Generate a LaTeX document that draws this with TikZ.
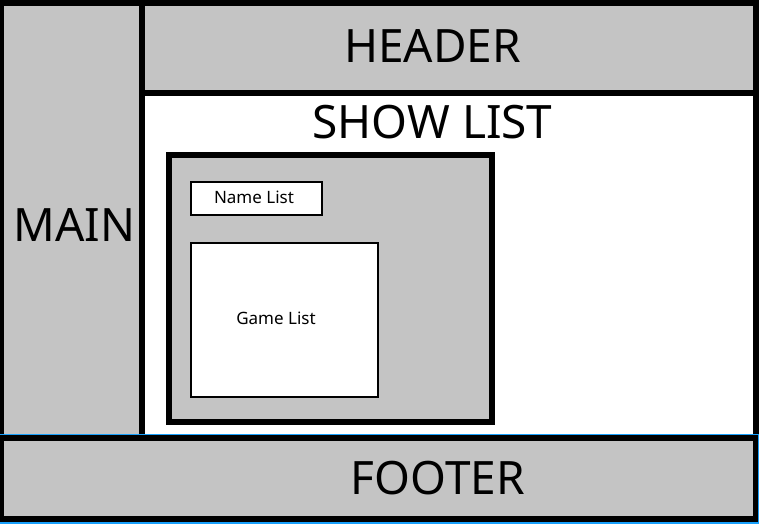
\documentclass[tikz,border=0pt]{standalone}
\usepackage{fontspec}
\setmainfont{Noto Sans}
\usetikzlibrary{positioning}
\definecolor{panelgray}{HTML}{C4C4C4}
\definecolor{selectblue}{HTML}{18A0FB}
\tikzset{
    panel/.style={draw=black, fill=panelgray, line width=6pt},
    listbox/.style={draw=black, fill=white, line width=2pt},
    bigtext/.style={anchor=base, font=\fontsize{46}{50}\selectfont},
    smalltext/.style={anchor=base, font=\fontsize{17}{20}\selectfont}
}

\begin{document}
\begin{tikzpicture}[x=1pt,y=-1pt]
            \useasboundingbox (0,0) rectangle (760,526);
            \draw[line width=6pt, fill=white] (142,93) rectangle (756,438);
            \draw[panel] (1,3) rectangle (142,438);
            \draw[panel] (142,3) rectangle (756,93);
            \draw[panel] (1,438) rectangle (756,519);
            \draw[panel, line width=6.5pt] (169,155) rectangle (492,422);
            \draw[listbox] (191,182) rectangle (322,215);
            \draw[listbox] (191,243) rectangle (378,397);
            \draw[selectblue, line width=1.5pt] (-1,434.5) rectangle (758.5,523);
            \node[bigtext] (header) at (432.5,62.7) {HEADER};
            \node[bigtext] (showlist) at (432.5,139) {SHOW LIST};
            \node[bigtext] (main) at (74.5,241.7) {MAIN};
            \node[bigtext] (footer) at (438,494) {FOOTER};
            \node[smalltext] (namelist) at (254,204) {Name List};
            \node[smalltext] (gamelist) at (276,325) {Game List};
        \end{tikzpicture}
\end{document}
